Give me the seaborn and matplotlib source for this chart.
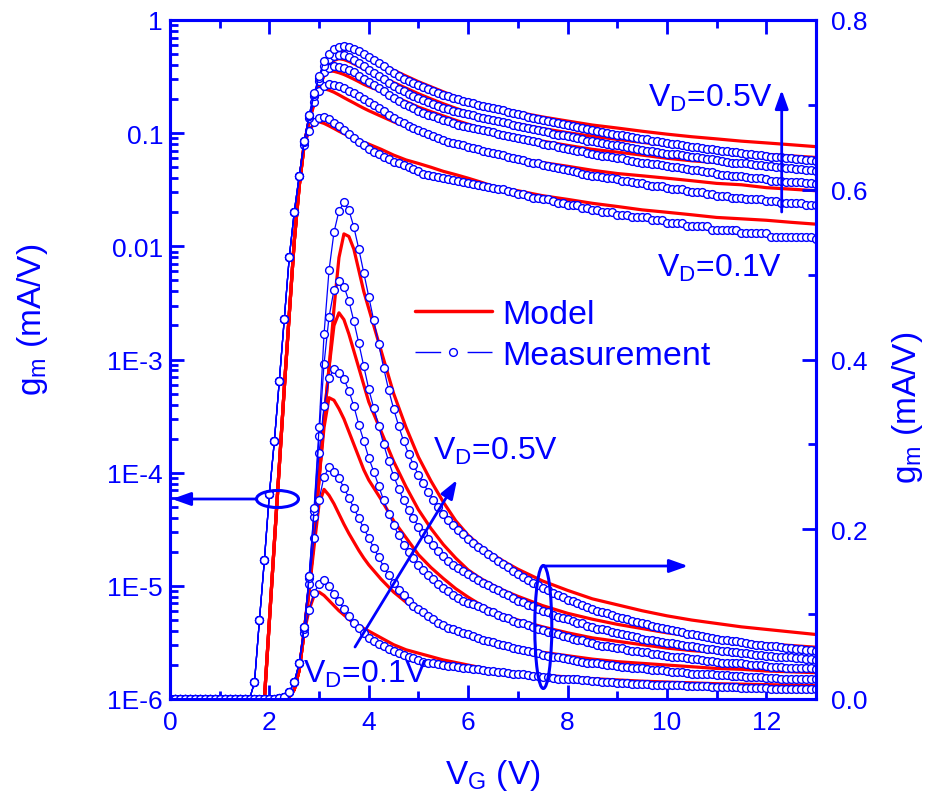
import numpy as np
import pandas as pd
import seaborn as sns
import matplotlib.pyplot as plt
from matplotlib.lines import Line2D
from matplotlib.patches import Ellipse
from matplotlib.ticker import MultipleLocator, LogLocator, NullFormatter

# gate voltage grid of the measurement (0.1 V step)
vg_meas = np.round(np.arange(0, 13.05, 0.1), 1)

# subthreshold part, same for all V_D (0.0 .. 2.6 V)
meas_sub = [1e-6] * 17 + [1.4e-6, 5.0e-6, 1.7e-5, 6.5e-5, 1.9e-4, 6.5e-4, 2.3e-3, 8.0e-3, 0.020, 0.042]

# measured gm (mA/V) from 2.7 V to 13.0 V
meas_05 = [0.085, 0.145, 0.225, 0.32, 0.43, 0.505, 0.55, 0.575, 0.585, 0.576,
           0.556, 0.53, 0.502, 0.474, 0.446, 0.418, 0.39, 0.364, 0.342, 0.322,
           0.304, 0.289, 0.276, 0.264, 0.254, 0.244, 0.235, 0.226, 0.218, 0.211,
           0.205, 0.199, 0.194, 0.189, 0.184, 0.179, 0.175, 0.171, 0.167, 0.163,
           0.159, 0.155, 0.151, 0.147, 0.144, 0.140, 0.137, 0.134, 0.131, 0.128,
           0.125, 0.122, 0.120, 0.117, 0.115, 0.113, 0.111, 0.108, 0.106, 0.104,
           0.102, 0.101, 0.099, 0.097, 0.096, 0.094, 0.092, 0.091, 0.089, 0.088,
           0.086, 0.085, 0.084, 0.082, 0.081, 0.080, 0.079, 0.077, 0.076, 0.075,
           0.074, 0.073, 0.072, 0.071, 0.070, 0.069, 0.068, 0.068, 0.067, 0.066,
           0.065, 0.064, 0.064, 0.063, 0.062, 0.062, 0.061, 0.060, 0.060, 0.059,
           0.059, 0.058, 0.058, 0.057]
meas_04 = [0.085, 0.145, 0.222, 0.31, 0.395, 0.45, 0.482, 0.492, 0.486, 0.469,
           0.445, 0.419, 0.392, 0.365, 0.343, 0.322, 0.300, 0.280, 0.263, 0.248,
           0.234, 0.223, 0.213, 0.203, 0.196, 0.188, 0.181, 0.174, 0.168, 0.163,
           0.158, 0.154, 0.151, 0.147, 0.144, 0.140, 0.137, 0.134, 0.131, 0.128,
           0.125, 0.122, 0.119, 0.116, 0.114, 0.111, 0.109, 0.106, 0.104, 0.102,
           0.099, 0.097, 0.096, 0.094, 0.092, 0.090, 0.089, 0.086, 0.085, 0.083,
           0.082, 0.081, 0.079, 0.078, 0.077, 0.075, 0.074, 0.073, 0.071, 0.070,
           0.069, 0.068, 0.067, 0.066, 0.066, 0.065, 0.064, 0.063, 0.062, 0.061,
           0.060, 0.059, 0.059, 0.058, 0.057, 0.056, 0.055, 0.055, 0.054, 0.054,
           0.053, 0.052, 0.052, 0.051, 0.051, 0.050, 0.050, 0.049, 0.049, 0.048,
           0.048, 0.047, 0.047, 0.0465]
meas_03 = [0.085, 0.143, 0.215, 0.29, 0.345, 0.378, 0.389, 0.384, 0.377, 0.363,
           0.345, 0.323, 0.304, 0.284, 0.268, 0.251, 0.234, 0.218, 0.205, 0.193,
           0.182, 0.173, 0.166, 0.158, 0.152, 0.146, 0.141, 0.136, 0.131, 0.127,
           0.123, 0.119, 0.116, 0.113, 0.112, 0.109, 0.107, 0.104, 0.102, 0.099,
           0.097, 0.095, 0.092, 0.090, 0.089, 0.087, 0.085, 0.083, 0.081, 0.079,
           0.078, 0.076, 0.074, 0.073, 0.071, 0.070, 0.069, 0.067, 0.066, 0.064,
           0.063, 0.063, 0.061, 0.060, 0.060, 0.058, 0.057, 0.056, 0.055, 0.055,
           0.053, 0.053, 0.052, 0.051, 0.050, 0.050, 0.049, 0.048, 0.047, 0.047,
           0.046, 0.045, 0.045, 0.044, 0.043, 0.043, 0.042, 0.042, 0.042, 0.041,
           0.040, 0.040, 0.040, 0.039, 0.038, 0.038, 0.038, 0.037, 0.037, 0.037,
           0.037, 0.036, 0.036, 0.0355]
meas_02 = [0.083, 0.135, 0.19, 0.235, 0.262, 0.273, 0.268, 0.26, 0.249, 0.237,
           0.225, 0.213, 0.201, 0.19, 0.178, 0.167, 0.156, 0.146, 0.137, 0.129,
           0.122, 0.116, 0.110, 0.106, 0.102, 0.098, 0.094, 0.090, 0.087, 0.084,
           0.082, 0.080, 0.078, 0.076, 0.074, 0.072, 0.070, 0.068, 0.067, 0.065,
           0.064, 0.062, 0.060, 0.059, 0.058, 0.056, 0.055, 0.054, 0.052, 0.051,
           0.050, 0.049, 0.048, 0.047, 0.046, 0.045, 0.044, 0.043, 0.042, 0.042,
           0.041, 0.040, 0.040, 0.039, 0.038, 0.038, 0.037, 0.036, 0.036, 0.035,
           0.034, 0.034, 0.034, 0.033, 0.032, 0.032, 0.032, 0.031, 0.030, 0.030,
           0.030, 0.029, 0.029, 0.028, 0.028, 0.028, 0.027, 0.027, 0.027, 0.026,
           0.026, 0.026, 0.026, 0.025, 0.025, 0.025, 0.024, 0.024, 0.024, 0.024,
           0.024, 0.023, 0.023, 0.023]
meas_01 = [0.078, 0.105, 0.125, 0.136, 0.140, 0.133, 0.124, 0.115, 0.106, 0.098,
           0.090, 0.084, 0.078, 0.072, 0.068, 0.065, 0.062, 0.059, 0.056, 0.054,
           0.052, 0.050, 0.048, 0.046, 0.044, 0.043, 0.042, 0.041, 0.040, 0.039,
           0.0385, 0.038, 0.037, 0.036, 0.0355, 0.035, 0.034, 0.0335, 0.033, 0.032,
           0.032, 0.031, 0.030, 0.029, 0.029, 0.028, 0.027, 0.027, 0.026, 0.026,
           0.025, 0.024, 0.024, 0.023, 0.023, 0.023, 0.022, 0.022, 0.021, 0.021,
           0.020, 0.020, 0.020, 0.019, 0.019, 0.019, 0.018, 0.018, 0.018, 0.018,
           0.017, 0.017, 0.017, 0.016, 0.016, 0.016, 0.016, 0.015, 0.015, 0.015,
           0.015, 0.015, 0.014, 0.014, 0.014, 0.014, 0.014, 0.014, 0.013, 0.013,
           0.013, 0.013, 0.013, 0.013, 0.012, 0.012, 0.012, 0.012, 0.012, 0.012,
           0.012, 0.012, 0.012, 0.0115]

# model grid and model gm (mA/V)
vg_model = [1.9, 2.0, 2.1, 2.2, 2.3, 2.4, 2.5, 2.6, 2.7, 2.8, 2.9, 3.0, 3.1, 3.2, 3.3,
            3.4, 3.5, 3.6, 3.7, 3.8, 3.9, 4.0, 4.25, 4.5, 4.75, 5.0, 5.25, 5.5, 5.75,
            6.0, 6.25, 6.5, 6.75, 7.0, 7.5, 8.0, 8.5, 9.0, 9.5, 10.0, 10.5, 11.0,
            11.5, 12.0, 12.5, 13.0]
model_sub = [1.0e-6, 4.9e-6, 2.4e-5, 1.15e-4, 5.6e-4, 2.5e-3, 0.011, 0.034, 0.079]
model_05 = [0.13, 0.19, 0.26, 0.33, 0.39, 0.46, 0.52, 0.548, 0.545, 0.53, 0.505, 0.48, 0.46,
            0.41, 0.36, 0.32, 0.285, 0.257, 0.232, 0.21, 0.193, 0.18, 0.17, 0.161, 0.153,
            0.139, 0.128, 0.118, 0.111, 0.104, 0.098, 0.093, 0.089, 0.085, 0.082, 0.079, 0.076]
model_04 = [0.13, 0.19, 0.26, 0.33, 0.39, 0.44, 0.455, 0.447, 0.43, 0.41, 0.39, 0.37, 0.35,
            0.315, 0.28, 0.25, 0.223, 0.201, 0.182, 0.166, 0.152, 0.142, 0.134, 0.127, 0.121,
            0.110, 0.101, 0.094, 0.088, 0.083, 0.078, 0.074, 0.071, 0.068, 0.065, 0.063, 0.061]
model_03 = [0.13, 0.19, 0.26, 0.32, 0.355, 0.352, 0.342, 0.33, 0.315, 0.30, 0.285, 0.27, 0.258,
            0.235, 0.21, 0.19, 0.17, 0.155, 0.142, 0.13, 0.12, 0.111, 0.104, 0.098, 0.093,
            0.085, 0.078, 0.072, 0.068, 0.064, 0.060, 0.057, 0.055, 0.052, 0.050, 0.048, 0.047]
model_02 = [0.128, 0.18, 0.23, 0.247, 0.24, 0.23, 0.218, 0.206, 0.195, 0.185, 0.175, 0.166, 0.158,
            0.141, 0.126, 0.114, 0.104, 0.095, 0.088, 0.081, 0.076, 0.071, 0.067, 0.063, 0.060,
            0.055, 0.051, 0.047, 0.044, 0.042, 0.040, 0.038, 0.036, 0.035, 0.033, 0.032, 0.031]
model_01 = [0.105, 0.122, 0.126, 0.122, 0.116, 0.110, 0.104, 0.099, 0.094, 0.089, 0.086, 0.083, 0.080,
            0.072, 0.064, 0.058, 0.054, 0.050, 0.046, 0.043, 0.040, 0.037, 0.034, 0.032, 0.031,
            0.028, 0.026, 0.024, 0.0225, 0.021, 0.020, 0.019, 0.018, 0.0175, 0.017, 0.0163, 0.0157]

vd_values = [0.5, 0.4, 0.3, 0.2, 0.1]
meas_series = [meas_05, meas_04, meas_03, meas_02, meas_01]
model_series = [model_05, model_04, model_03, model_02, model_01]

meas_df = pd.DataFrame({
    'VG': np.tile(vg_meas, len(vd_values)),
    'gm': np.concatenate([meas_sub + s for s in meas_series]),
    'VD': np.repeat(vd_values, len(vg_meas)),
})
model_df = pd.DataFrame({
    'VG': np.tile(vg_model, len(vd_values)),
    'gm': np.concatenate([model_sub + s for s in model_series]),
    'VD': np.repeat(vd_values, len(vg_model)),
})

BLUE = '#0000ff'
RED = '#ff0000'

sns.set_style('white')
plt.rcParams['font.family'] = ['Liberation Sans', 'DejaVu Sans']
plt.rcParams['mathtext.fontset'] = 'custom'
plt.rcParams['mathtext.rm'] = 'Liberation Sans'
plt.rcParams['mathtext.it'] = 'Liberation Sans:italic'

fig = plt.figure(figsize=(9.41, 8.04), dpi=100)
ax = fig.add_axes([170 / 941, 104 / 804, 646 / 941, 679 / 804])
ax.set_yscale('log')
ax2 = ax.twinx()

for a in (ax, ax2):
    sns.lineplot(data=model_df, x='VG', y='gm', units='VD', estimator=None, sort=False,
                 color=RED, linewidth=2.3, legend=False, ax=a)
    sns.lineplot(data=meas_df, x='VG', y='gm', units='VD', estimator=None, sort=False,
                 color=BLUE, linewidth=0.9, marker='o', markersize=5.6,
                 markerfacecolor='white', markeredgecolor=BLUE, markeredgewidth=1.0,
                 legend=False, ax=a)

ax.set_xlim(0, 13)
ax.set_ylim(1e-6, 1)
ax2.set_ylim(0, 0.8)

ax.xaxis.set_major_locator(MultipleLocator(2))
ax.xaxis.set_minor_locator(MultipleLocator(1))
ax.set_yticks([1e-6, 1e-5, 1e-4, 1e-3, 1e-2, 1e-1, 1],
              ['1E-6', '1E-5', '1E-4', '1E-3', '0.01', '0.1', '1'])
ax.yaxis.set_minor_locator(LogLocator(base=10, subs=np.arange(2, 10), numticks=20))
ax.yaxis.set_minor_formatter(NullFormatter())
ax2.set_yticks([0, 0.2, 0.4, 0.6, 0.8], ['0.0', '0.2', '0.4', '0.6', '0.8'])
ax2.yaxis.set_minor_locator(MultipleLocator(0.1))

ax.tick_params(axis='x', which='both', direction='in', top=True, bottom=True,
               colors=BLUE, width=2, labelsize=19, pad=8)
ax.tick_params(axis='y', which='both', direction='in', left=True, right=False,
               colors=BLUE, width=2, labelsize=19, pad=5)
ax2.tick_params(axis='y', which='both', direction='in', left=False, right=True,
                colors=BLUE, width=2, labelsize=19, pad=11)
for a in (ax, ax2):
    a.tick_params(which='major', length=10)
    a.tick_params(which='minor', length=6)
    for sp in a.spines.values():
        sp.set_color(BLUE)
        sp.set_linewidth(2.2)
        sp.set_visible(True)

ax.set_xlabel('V$_\\mathregular{G}$ (V)', fontsize=24, color=BLUE)
ax.set_ylabel('g$_\\mathregular{m}$ (mA/V)', fontsize=24, color=BLUE)
ax2.set_ylabel('g$_\\mathregular{m}$ (mA/V)', fontsize=24, color=BLUE)
ax.xaxis.set_label_coords(0.5, -0.085)
ax.yaxis.set_label_coords(-0.185, 0.56)
ax2.yaxis.set_label_coords(1.115, 0.43)

# legend: blue sample has a gap around the circle, as in the original
handles = [Line2D([], [], color=RED, lw=2.5),
           Line2D([], [], color=BLUE, lw=1, dashes=(18.5, 19), marker='o', markersize=5.6,
                  markerfacecolor='white', markeredgecolor=BLUE)]
leg = ax2.legend(handles, ['Model', 'Measurement'], loc='upper left',
                 bbox_to_anchor=(415 / 941, 1 - 300 / 804), bbox_transform=fig.transFigure,
                 frameon=False, fontsize=24.5, handlelength=2.25, handletextpad=0.3,
                 labelspacing=0.3, borderpad=0, borderaxespad=0)
for t in leg.get_texts():
    t.set_color(BLUE)

# annotation layer in pixel coordinates
ov = fig.add_axes([0, 0, 1, 1], zorder=5)
ov.set_xlim(0, 941)
ov.set_ylim(804, 0)
ov.set_axis_off()
ov.patch.set_visible(False)

arrow = dict(arrowstyle='-|>,head_length=0.7,head_width=0.25', color=BLUE, lw=2,
             shrinkA=0, shrinkB=0, mutation_scale=16)
ov.add_patch(Ellipse((277.5, 500), 42, 17, fill=False, ec=BLUE, lw=2.2))
ov.annotate('', xy=(172, 500), xytext=(256.5, 500), arrowprops=arrow)
ov.add_patch(Ellipse((543.3, 628), 17, 123, fill=False, ec=BLUE, lw=2.2))
ov.annotate('', xy=(688, 567), xytext=(543.3, 567), arrowprops=arrow)
ov.annotate('', xy=(457, 481), xytext=(355, 648), arrowprops=arrow)
ov.annotate('', xy=(781.7, 91), xytext=(781.7, 213), arrowprops=arrow)

lab = dict(fontsize=23, color=BLUE, ha='left', va='baseline')
ov.text(648, 107, 'V$_\\mathregular{D}$=0.5V', **lab)
ov.text(656.7, 277, 'V$_\\mathregular{D}$=0.1V', **lab)
ov.text(433.3, 460, 'V$_\\mathregular{D}$=0.5V', **lab)
ov.text(303.3, 683.3, 'V$_\\mathregular{D}$=0.1V', **lab)

fig.savefig('out.png', dpi=100)
